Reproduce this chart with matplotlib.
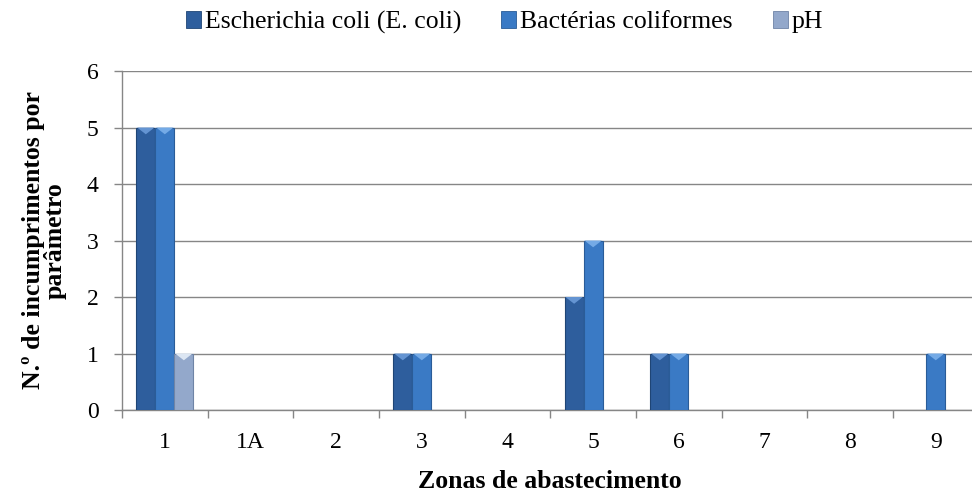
import matplotlib
matplotlib.use("Agg")
import matplotlib.pyplot as plt
from matplotlib.patches import Polygon, Patch
import numpy as np

categories = ["1", "1A", "2", "3", "4", "5", "6", "7", "8", "9"]
ecoli = [5, 0, 0, 1, 0, 2, 1, 0, 0, 0]
coliformes = [5, 0, 0, 1, 0, 3, 1, 0, 0, 1]
ph = [1, 0, 0, 0, 0, 0, 0, 0, 0, 0]
series_names = ["Escherichia coli (E. coli)", "Bactérias coliformes", "pH"]
yticks = [0, 1, 2, 3, 4, 5, 6]

plt.rcParams['font.family'] = ['Liberation Serif', 'DejaVu Serif']
FS_TICK = 17
FS = 18.5

fig = plt.figure(figsize=(9.72, 4.92), dpi=100)
ax = fig.add_axes([122/972, 82/492, 856.6/972, 339/492])

colors = ["#2E5E9D", "#3A7AC5", "#93A8CB"]
edges = ["#1F4575", "#2A5C98", "#6F84A6"]
tops = ["#6494D2", "#74AAE6", "#DCE6F3"]

x = np.arange(len(categories))
w = 0.222
data = [ecoli, coliformes, ph]
for i, (vals, c, ec, tc) in enumerate(zip(data, colors, edges, tops)):
    bars = ax.bar(x + (i - 1) * w, vals, width=w, color=c, edgecolor=ec,
                  linewidth=0.8, zorder=3)
    for p in bars:
        h = p.get_height()
        if h == 0:
            p.set_visible(False)
            continue
        x0 = p.get_x()
        bw = p.get_width()
        th = 0.12
        tri = Polygon([[x0 + 0.04*bw, h], [x0 + 0.96*bw, h], [x0 + bw/2, h - th]],
                      closed=True, facecolor=tc, edgecolor='none', zorder=4)
        ax.add_patch(tri)

ax.set_xlim(-0.5, len(categories) - 0.5)
ax.set_ylim(0, 6)
ax.set_yticks(yticks)
ax.set_yticklabels([str(v) for v in yticks], fontsize=FS_TICK)
ax.set_xticks(x)
ax.set_xticklabels(categories, fontsize=FS_TICK)
ax.set_xticks(np.arange(len(categories) + 1) - 0.5, minor=True)
ax.tick_params(axis='x', which='major', length=0, pad=16)
ax.tick_params(axis='x', which='minor', length=6, width=1, color='#868686', direction='out')
ax.tick_params(axis='y', which='major', length=6, width=1, color='#868686', direction='out', pad=11)

ax.grid(axis='y', color='#868686', linewidth=1, zorder=0)
ax.set_axisbelow(True)
for s in ['top', 'right']:
    ax.spines[s].set_visible(False)
for s in ['left', 'bottom']:
    ax.spines[s].set_color('#868686')
    ax.spines[s].set_linewidth(1)

ax.set_xlabel("Zonas de abastecimento", fontsize=FS, fontweight='bold', labelpad=12)
ax.set_ylabel("N.º de incumprimentos por\nparâmetro", fontsize=FS, fontweight='bold',
              labelpad=14, linespacing=0.95)

handles = [Patch(facecolor=c, edgecolor=ec, linewidth=0.6) for c, ec in zip(colors, edges)]
fig.legend(handles, series_names, loc='upper center', bbox_to_anchor=(0.519, 1.025),
           ncol=3, frameon=False, fontsize=FS, handlelength=0.6, handleheight=0.6,
           handletextpad=0.15, columnspacing=1.55)

fig.savefig("out.png", dpi=100)
